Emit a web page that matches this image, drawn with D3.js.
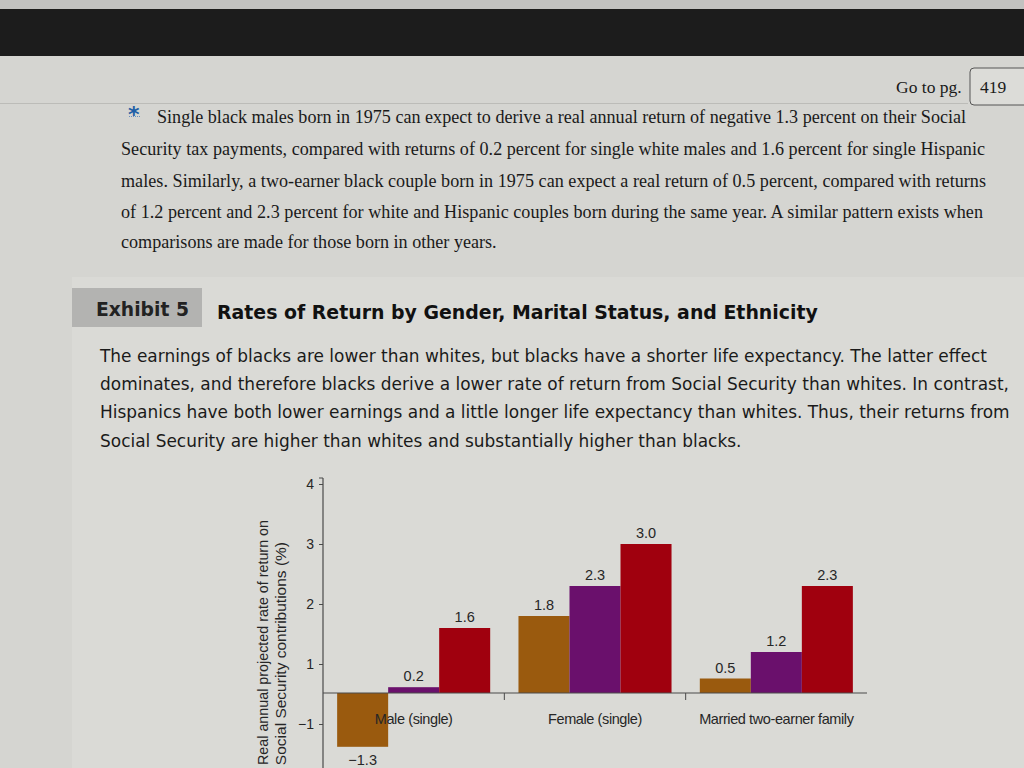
<!DOCTYPE html>
<html>
<head>
<meta charset="utf-8">
<script src="https://cdn.jsdelivr.net/npm/d3@7"></script>
<style>
  html, body { margin: 0; padding: 0; background: #d5d5d1; overflow: hidden; }
  svg { display: block; }
</style>
</head>
<body>
<svg id="page" width="1024" height="768"></svg>
<script>
// ---------- data ----------
const categories = ["Male (single)", "Female (single)", "Married two-earner family"];
const series = ["Black", "White", "Hispanic"];
const blackValues = [-1.3, 1.8, 0.5];
const whiteValues = [0.2, 2.3, 1.2];
const hispanicValues = [1.6, 3.0, 2.3];
const yTickValues = [4, 3, 2, 1, -1];
const seriesColors = ["#9a5a0e", "#6a106c", "#a0000e"];

const noteLines = [
  "Single black males born in 1975 can expect to derive a real annual return of negative 1.3 percent on their Social",
  "Security tax payments, compared with returns of 0.2 percent for single white males and 1.6 percent for single Hispanic",
  "males. Similarly, a two-earner black couple born in 1975 can expect a real return of 0.5 percent, compared with returns",
  "of 1.2 percent and 2.3 percent for white and Hispanic couples born during the same year. A similar pattern exists when",
  "comparisons are made for those born in other years."
];
const bodyLines = [
  "The earnings of blacks are lower than whites, but blacks have a shorter life expectancy. The latter effect",
  "dominates, and therefore blacks derive a lower rate of return from Social Security than whites. In contrast,",
  "Hispanics have both lower earnings and a little longer life expectancy than whites. Thus, their returns from",
  "Social Security are higher than whites and substantially higher than blacks."
];
const exhibitLabel = "Exhibit 5";
const exhibitTitle = "Rates of Return by Gender, Marital Status, and Ethnicity";
const yAxisTitle = ["Real annual projected rate of return on", "Social Security contributions (%)"];

// ---------- helpers ----------
const svg = d3.select("#page");

// sizes a block of lines so their natural width matches the photographed widths
function paragraph(lines, xs, ends, ys, family, baseSize, fill, weight) {
  const nodes = lines.map((t, i) => svg.append("text")
    .attr("x", xs[i]).attr("y", ys[i])
    .attr("font-family", family).attr("font-size", baseSize)
    .attr("font-weight", weight || "normal")
    .attr("fill", fill).text(t));
  let ratios = [];
  nodes.forEach((n, i) => {
    const w = n.node().getComputedTextLength();
    ratios.push((ends[i] - xs[i]) / w);
  });
  const full = ratios.slice(0, Math.max(1, lines.length - 1));
  const size = baseSize * d3.min(full);
  nodes.forEach((n, i) => {
    n.attr("font-size", size);
    const w = n.node().getComputedTextLength();
    const target = ends[i] - xs[i];
    if (Math.abs(w - target) > 1.5 && w < target) {
      n.attr("textLength", target).attr("lengthAdjust", "spacing");
    }
  });
  return nodes;
}

// ---------- page background ----------
svg.append("rect").attr("x", 0).attr("y", 0).attr("width", 1024).attr("height", 768).attr("fill", "#d5d5d1");
svg.append("rect").attr("x", 0).attr("y", 0).attr("width", 1024).attr("height", 10).attr("fill", "#c2c2c0");
svg.append("rect").attr("x", 0).attr("y", 9).attr("width", 1024).attr("height", 47).attr("fill", "#1c1c1c");
svg.append("line").attr("x1", 0).attr("x2", 968).attr("y1", 103.5).attr("y2", 103.5)
  .attr("stroke", "#bcbcb8").attr("stroke-width", 1);

// "Go to pg." box
svg.append("text").attr("x", 896).attr("y", 93)
  .attr("font-family", "'Liberation Serif', 'DejaVu Serif', serif").attr("font-size", 17.5)
  .attr("fill", "#1a1a1a").text("Go to pg.");
svg.append("rect").attr("x", 970).attr("y", 68).attr("width", 70).attr("height", 37).attr("rx", 4)
  .attr("fill", "#dcdcd8").attr("stroke", "#555").attr("stroke-width", 1);
svg.append("text").attr("x", 980).attr("y", 93)
  .attr("font-family", "'Liberation Serif', 'DejaVu Serif', serif").attr("font-size", 17.5)
  .attr("fill", "#1a1a1a").text("419");

// note star
svg.append("text").attr("x", 128).attr("y", 122)
  .attr("font-family", "'DejaVu Sans', sans-serif").attr("font-size", 22).attr("font-weight", "bold")
  .attr("fill", "#1f5fa6").text("*");
svg.append("line").attr("x1", 129).attr("x2", 141).attr("y1", 116.5).attr("y2", 116.5)
  .attr("stroke", "#6a8fbf").attr("stroke-width", 1).attr("stroke-dasharray", "1,1");

// note paragraph (serif)
paragraph(noteLines, [157, 121, 121, 121, 121], [967, 985, 986, 983, 498], [123, 155, 187, 218, 248],
  "'Liberation Serif', 'DejaVu Serif', serif", 18, "#1a1a1a");

// exhibit panel
svg.append("rect").attr("x", 72).attr("y", 277).attr("width", 952).attr("height", 491).attr("fill", "#dadad6");
svg.append("rect").attr("x", 72).attr("y", 288).attr("width", 130).attr("height", 39).attr("fill", "#b3b3b1");
paragraph([exhibitLabel], [96], [189], [316], "'DejaVu Sans', Verdana, sans-serif", 19, "#222", "bold");
paragraph([exhibitTitle], [217], [818], [319], "'DejaVu Sans', Verdana, sans-serif", 19, "#111", "bold");

// body paragraph (sans)
paragraph(bodyLines, [100, 100, 100, 100], [988, 1009, 1010, 742], [362, 390, 418, 447],
  "'DejaVu Sans', Verdana, sans-serif", 18, "#1a1a1a");

// ---------- chart ----------
const chartFont = "'Liberation Sans', Arial, Helvetica, sans-serif";
const textColor = "#262626";
const axisX = 323, plotRight = 867;

// the printed exhibit uses an uneven vertical scale; reproduce it as a polylinear scale
const y = d3.scaleLinear().domain([-1.5, -1, 0, 1, 4]).range([762, 724, 693, 664, 484]);

const x0 = d3.scaleBand().domain(categories).range([axisX, plotRight])
  .paddingInner(0.156).paddingOuter(0.078);
const x1 = d3.scaleBand().domain(series).range([0, x0.bandwidth()]);
const color = d3.scaleOrdinal().domain(series).range(seriesColors);

const valuesBySeries = { Black: blackValues, White: whiteValues, Hispanic: hispanicValues };
const rows = categories.map((c, i) => ({
  category: c,
  values: series.map(s => ({ series: s, value: valuesBySeries[s][i] }))
}));

const chart = svg.append("g");

// bars
const groups = chart.selectAll("g.group").data(rows).join("g")
  .attr("class", "group").attr("transform", d => `translate(${x0(d.category)},0)`);

groups.selectAll("rect").data(d => d.values).join("rect")
  .attr("x", d => x1(d.series))
  .attr("width", x1.bandwidth())
  .attr("y", d => d.value >= 0 ? y(d.value) : y(0))
  .attr("height", d => Math.abs(y(d.value) - y(0)))
  .attr("fill", d => color(d.series));

// value labels
const fmt = d3.format(".1f");
groups.selectAll("text.val").data(d => d.values).join("text")
  .attr("class", "val")
  .attr("x", d => x1(d.series) + x1.bandwidth() / 2)
  .attr("y", d => d.value >= 0 ? y(d.value) - 6 : y(d.value) + 18)
  .attr("text-anchor", "middle")
  .attr("font-family", chartFont).attr("font-size", 14.5).attr("fill", textColor)
  .text(d => fmt(d.value));

// zero baseline
chart.append("line").attr("x1", axisX).attr("x2", plotRight).attr("y1", y(0)).attr("y2", y(0))
  .attr("stroke", "#4a4a4a").attr("stroke-width", 1.2);

// category dividers
categories.slice(1).forEach(c => {
  const bx = x0(c) - x0.step() * x0.paddingInner() / 2;
  chart.append("line").attr("x1", bx).attr("x2", bx).attr("y1", y(0)).attr("y2", y(0) + 7)
    .attr("stroke", "#4a4a4a").attr("stroke-width", 1);
});

// category labels
chart.selectAll("text.cat").data(categories).join("text")
  .attr("class", "cat")
  .attr("x", d => x0(d) + x0.bandwidth() / 2)
  .attr("y", 724)
  .attr("text-anchor", "middle")
  .attr("font-family", chartFont).attr("font-size", 14.5).attr("fill", textColor)
  .attr("letter-spacing", -0.4)
  .text(d => d);

// y axis
const yAxis = d3.axisLeft(y).tickValues(yTickValues).tickSize(4).tickPadding(5)
  .tickFormat(d => d < 0 ? "\u2212" + Math.abs(d) : String(d));
const gy = chart.append("g").attr("transform", `translate(${axisX},0)`).call(yAxis);
gy.select(".domain").remove();
gy.selectAll(".tick line").attr("stroke", "#4a4a4a");
gy.selectAll(".tick text").attr("font-family", chartFont).attr("font-size", 14).attr("fill", textColor);
chart.append("line").attr("x1", axisX).attr("x2", axisX).attr("y1", 478).attr("y2", 768)
  .attr("stroke", "#4a4a4a").attr("stroke-width", 1.2);
chart.append("line").attr("x1", axisX).attr("x2", axisX - 4).attr("y1", 478).attr("y2", 478)
  .attr("stroke", "#4a4a4a").attr("stroke-width", 1);

// y axis title (two rotated lines, kept inside the page)
const titleBaselines = [268, 286];
const titleEnds = [520, 542];
const titleMaxLen = [245, 224];
yAxisTitle.forEach((t, i) => {
  const txt = chart.append("text")
    .attr("transform", `translate(${titleBaselines[i]},${titleEnds[i]}) rotate(-90)`)
    .attr("text-anchor", "end")
    .attr("font-family", chartFont).attr("font-size", 15.5).attr("fill", textColor)
    .text(t);
  if (txt.node().getComputedTextLength() > titleMaxLen[i]) {
    txt.attr("textLength", titleMaxLen[i]).attr("lengthAdjust", "spacingAndGlyphs");
  }
});
</script>
</body>
</html>
